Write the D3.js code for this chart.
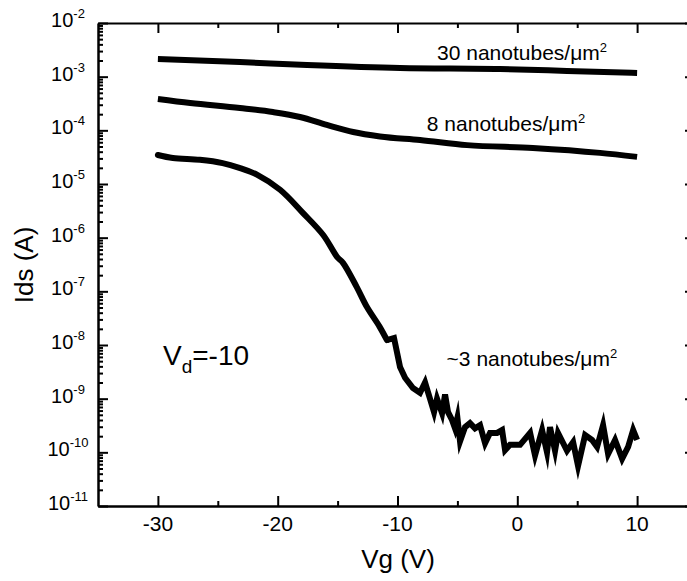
<!DOCTYPE html>
<html>
<head>
<meta charset="utf-8">
<script src="https://cdn.jsdelivr.net/npm/d3@7"></script>
<style>
html,body{margin:0;padding:0;background:#fff;overflow:hidden}
svg{display:block}
text{font-family:"Liberation Sans",Arial,Helvetica,sans-serif;fill:#000}
</style>
</head>
<body>
<svg id="chart" width="687" height="581"></svg>
<script>
// ---- Data ----
// 30 nanotubes/um^2
const vg30  = [-30, -23.15, -17.55, -9.79, -1.44, 4.15, 10];
const ids30 = [2.13e-3, 1.87e-3, 1.65e-3, 1.45e-3, 1.39e-3, 1.28e-3, 1.17e-3];

// 8 nanotubes/um^2
const vg8  = [-30, -27.3, -23.15, -20.4, -18.14, -15.9, -13.7, -11.46, -8.12, -4.2, 1.3, 6.9, 10];
const ids8 = [3.84e-4, 3.23e-4, 2.61e-4, 2.19e-4, 1.77e-4, 1.26e-4, 9.3e-5, 7.7e-5, 6.6e-5, 5.3e-5, 4.7e-5, 3.8e-5, 3.2e-5];

// ~3 nanotubes/um^2
const vg3 = [-30, -28.75, -26.5, -24.6, -23.2, -21.7, -19.8, -17.9, -16.2, -15.05,
             -14.55, -13.4, -12.55, -11.5, -10.88, -10.29, -9.79, -9.37, -8.71, -8.12,
             -7.70, -7.29, -6.95, -6.70, -6.28, -6.03, -5.78, -5.45, -5.20, -5.00,
             -4.78, -4.36, -3.95, -3.53, -3.11, -2.69, -2.28, -1.69, -1.27, -1.02,
             -0.61, 0.23, 1.07, 1.48, 2.07, 2.48, 2.73, 3.15, 3.40, 4.15,
             4.66, 5.07, 5.66, 6.24, 6.66, 7.16, 7.58, 8.16, 8.75, 9.25,
             9.67, 10.0];
const ids3 = [3.47e-5, 3.05e-5, 2.82e-5, 2.45e-5, 2.0e-5, 1.48e-5, 7.8e-6, 2.9e-6, 1.12e-6, 4.4e-7,
              3.4e-7, 1.2e-7, 5.1e-8, 2.2e-8, 1.23e-8, 1.35e-8, 3.9e-9, 2.45e-9, 1.58e-9, 1.29e-9,
              2.0e-9, 1.0e-9, 5.6e-10, 1.0e-9, 5.4e-10, 1.2e-9, 5.6e-10, 4.0e-10, 2.8e-10, 4.4e-10,
              1.6e-10, 2.95e-10, 3.5e-10, 2.8e-10, 3.2e-10, 1.48e-10, 2.3e-10, 2.3e-10, 2.6e-10, 1.1e-10,
              1.38e-10, 1.38e-10, 2.3e-10, 8.7e-11, 2.6e-10, 1.0e-10, 2.95e-10, 1.07e-10, 2.3e-10, 1.07e-10,
              1.55e-10, 5.6e-11, 2.1e-10, 1.7e-10, 1.26e-10, 3.2e-10, 9.3e-11, 1.7e-10, 7.6e-11, 1.26e-10,
              2.6e-10, 1.7e-10];
const smoothUpTo = 14; // index where the ~3 curve turns noisy

// Axis ticks
const xMajorTicks = [-30, -20, -10, 0, 10];
const xTickLabels = ["-30", "-20", "-10", "0", "10"];
const xMinorTicks = [-25, -15, -5, 5];
const yExponents  = [-2, -3, -4, -5, -6, -7, -8, -9, -10, -11];
const xDomain = [-35, 15];
const yDomain = [1e-11, 1e-2];

// Annotations (anchored in data coordinates: left edge / baseline)
const seriesLabels = [
  {text: "30 nanotubes/\u03bcm", sup: "2", vg: -6.7, ids: 2.04e-3},
  {text: "8 nanotubes/\u03bcm",  sup: "2", vg: -7.55, ids: 9.8e-5},
  {text: "~3 nanotubes/\u03bcm", sup: "2", vg: -5.9, ids: 4.1e-9}
];

// ---- Chart ----
const svg = d3.select("#chart");
const M = {left: 98, top: 23, bottom: 506, right: 697};

const x = d3.scaleLinear().domain(xDomain).range([M.left, M.right]);
const y = d3.scaleLog().domain(yDomain).range([M.bottom, M.top]);

const yMajor = yExponents.map(e => Math.pow(10, e));
const yMinor = [];
for (let e = -11; e < -2; e++) for (let k = 2; k <= 9; k++) yMinor.push(k * Math.pow(10, e));

function styleAxis(g, w) {
  g.selectAll(".domain").attr("stroke", "#000").attr("stroke-width", w);
  g.selectAll(".tick line").attr("stroke", "#000").attr("stroke-width", 2);
  g.selectAll(".tick text").remove();
}

// Minor ticks
svg.append("g").attr("transform", `translate(${M.left},0)`)
  .call(d3.axisLeft(y).tickValues(yMinor).tickSize(-5).tickSizeOuter(0).tickFormat(""))
  .call(g => styleAxis(g, 0));
svg.append("g").attr("transform", `translate(${M.right},0)`)
  .call(d3.axisRight(y).tickValues(yMinor).tickSize(-5).tickSizeOuter(0).tickFormat(""))
  .call(g => styleAxis(g, 0));
svg.append("g").attr("transform", `translate(0,${M.bottom})`)
  .call(d3.axisBottom(x).tickValues(xMinorTicks).tickSize(-5).tickSizeOuter(0).tickFormat(""))
  .call(g => styleAxis(g, 0));
svg.append("g").attr("transform", `translate(0,${M.top})`)
  .call(d3.axisTop(x).tickValues(xMinorTicks).tickSize(-5).tickSizeOuter(0).tickFormat(""))
  .call(g => styleAxis(g, 0));

// Major ticks + axis lines
svg.append("g").attr("transform", `translate(${M.left},0)`)
  .call(d3.axisLeft(y).tickValues(yMajor).tickSize(-10).tickSizeOuter(0).tickFormat(""))
  .call(g => styleAxis(g, 2.5));
svg.append("g").attr("transform", `translate(${M.right},0)`)
  .call(d3.axisRight(y).tickValues(yMajor).tickSize(-12).tickSizeOuter(0).tickFormat(""))
  .call(g => styleAxis(g, 2.5));
svg.append("g").attr("transform", `translate(0,${M.bottom})`)
  .call(d3.axisBottom(x).tickValues(xMajorTicks).tickSize(-10).tickSizeOuter(0).tickFormat(""))
  .call(g => styleAxis(g, 2.5));
svg.append("g").attr("transform", `translate(0,${M.top})`)
  .call(d3.axisTop(x).tickValues(xMajorTicks).tickSize(-10).tickSizeOuter(0).tickFormat(""))
  .call(g => styleAxis(g, 2));

// Y tick labels: 10^n
yExponents.forEach(e => {
  const t = svg.append("text")
    .attr("x", 68).attr("y", y(Math.pow(10, e)) + 4)
    .attr("text-anchor", "middle")
    .attr("font-size", 20);
  t.append("tspan").text("10");
  t.append("tspan").attr("dy", -9).attr("font-size", 13).text(String(e));
});

// X tick labels
xMajorTicks.forEach((v, i) => {
  svg.append("text")
    .attr("x", x(v)).attr("y", 531)
    .attr("text-anchor", "middle")
    .attr("font-size", 21)
    .text(xTickLabels[i]);
});

// Axis titles
svg.append("text")
  .attr("x", 398).attr("y", 568)
  .attr("text-anchor", "middle")
  .attr("font-size", 26)
  .text("Vg (V)");
svg.append("text")
  .attr("transform", `translate(33,265) rotate(-90)`)
  .attr("text-anchor", "middle")
  .attr("font-size", 26)
  .text("Ids (A)");

// Curves
const smooth = d3.line().x(d => x(d[0])).y(d => y(d[1])).curve(d3.curveMonotoneX);
const straight = d3.line().x(d => x(d[0])).y(d => y(d[1]));

svg.append("path").datum(d3.zip(vg30, ids30))
  .attr("d", smooth).attr("fill", "none").attr("stroke", "#000")
  .attr("stroke-width", 6);
svg.append("path").datum(d3.zip(vg8, ids8))
  .attr("d", smooth).attr("fill", "none").attr("stroke", "#000")
  .attr("stroke-width", 6);

const pts3 = d3.zip(vg3, ids3);
svg.append("path").datum(pts3.slice(0, smoothUpTo + 1))
  .attr("d", d3.line().x(d => x(d[0])).y(d => y(d[1])).curve(d3.curveCatmullRom.alpha(0.5)))
  .attr("fill", "none").attr("stroke", "#000")
  .attr("stroke-width", 6).attr("stroke-linecap", "round");
svg.append("path").datum(pts3.slice(smoothUpTo))
  .attr("d", straight).attr("fill", "none").attr("stroke", "#000")
  .attr("stroke-width", 6).attr("stroke-linejoin", "miter").attr("stroke-miterlimit", 6);

// Series annotations
seriesLabels.forEach(s => {
  const t = svg.append("text")
    .attr("x", x(s.vg)).attr("y", y(s.ids))
    .attr("font-size", 21);
  t.append("tspan").text(s.text);
  t.append("tspan").attr("dy", -8).attr("font-size", 13).text(s.sup);
});

// Vd annotation
const vd = svg.append("text").attr("x", 163).attr("y", 365).attr("font-size", 28);
vd.append("tspan").text("V");
vd.append("tspan").attr("dy", 8).attr("font-size", 19).text("d");
vd.append("tspan").attr("dy", -8).text("=-10");
</script>
</body>
</html>
